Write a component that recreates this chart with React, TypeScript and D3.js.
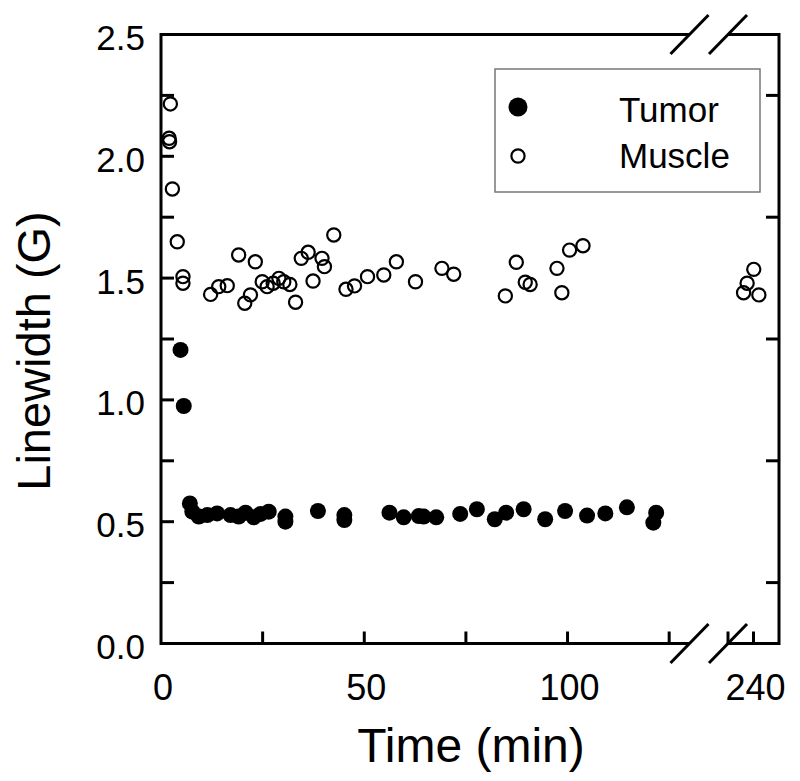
import * as d3 from "d3";
import { useEffect, useRef } from "react";

// time (min) and linewidth (G)
const tumorTime = [4.8, 5.6, 7.1, 7.7, 9.3, 11.4, 13.8, 17.1, 19.1, 20.8, 22.8, 24.5, 26.5, 30.6, 30.6, 38.6, 45.1, 45.1, 56.2, 59.7, 63.4, 64.6, 67.7, 73.6, 77.7, 82.1, 84.9, 89.2, 94.5, 99.4, 104.8, 109.3, 114.6, 121.8, 121.1];
const tumorWidth = [1.205, 0.975, 0.575, 0.541, 0.521, 0.527, 0.534, 0.527, 0.521, 0.537, 0.518, 0.532, 0.541, 0.521, 0.5, 0.544, 0.527, 0.507, 0.537, 0.518, 0.523, 0.521, 0.518, 0.532, 0.551, 0.51, 0.537, 0.551, 0.51, 0.544, 0.525, 0.534, 0.559, 0.537, 0.496];

const muscleTime = [2.3, 2.0, 2.1, 2.8, 4.0, 5.4, 5.4, 12.2, 14.2, 16.3, 19.1, 20.6, 22.0, 23.2, 24.9, 26.1, 27.6, 29.0, 30.2, 31.7, 33.1, 34.5, 36.2, 37.4, 39.6, 40.2, 42.5, 45.5, 47.6, 50.8, 54.8, 57.9, 62.6, 69.1, 72.0, 84.7, 87.4, 89.6, 90.8, 97.4, 98.6, 100.5, 103.8, 240.1, 237.5, 236.1, 242.1];
const muscleWidth = [2.215, 2.074, 2.06, 1.866, 1.649, 1.506, 1.479, 1.433, 1.465, 1.469, 1.595, 1.397, 1.431, 1.567, 1.485, 1.465, 1.479, 1.499, 1.485, 1.474, 1.401, 1.581, 1.606, 1.488, 1.581, 1.547, 1.677, 1.454, 1.468, 1.506, 1.513, 1.567, 1.485, 1.54, 1.516, 1.427, 1.565, 1.483, 1.474, 1.54, 1.44, 1.615, 1.633, 1.536, 1.479, 1.44, 1.431];

const yTickLabels = [0, 0.5, 1.0, 1.5, 2.0, 2.5];
const leftTicks = [0.25, 0.5, 0.75, 1.0, 1.25, 1.5, 1.75, 2.0, 2.25];
const rightTicks = [0.25, 0.75, 1.25, 1.75, 2.25];
const xTicksLow = [25, 50, 75, 100, 125];
const xTicksHigh = [230, 240];
const xLabelsLow = [0, 50, 100];
const xLabelsHigh = [240];

const W = 800;
const H = 781;
const FONT = "'Liberation Sans', Arial, sans-serif";

export default function App() {
  const ref = useRef<SVGSVGElement>(null);

  useEffect(() => {
    const svg = d3.select(ref.current);
    svg.selectAll("*").remove();

    const left = 161, right = 779, top = 34.5, bottom = 643.5;

    // broken x axis: two linear segments
    const xLow = d3.scaleLinear().domain([0, 130]).range([left, 689.5]);
    const xHigh = d3.scaleLinear().domain([230, 250]).range([728, right]);
    const x = (t: number) => (t < 200 ? xLow(t) : xHigh(t));
    const y = d3.scaleLinear().domain([0, 2.5]).range([bottom, top]);

    const g = svg.append("g");
    const axisStyle = (s: any) => s.attr("stroke", "#000").attr("stroke-width", 3).attr("fill", "none");

    // frame with gaps at the break
    g.append("path")
      .attr("d", `M${xLow(130)},${top}H${left}V${bottom}H${xLow(130)}`)
      .call(axisStyle);
    g.append("path")
      .attr("d", `M${xHigh(230)},${top}H${right}V${bottom}H${xHigh(230)}`)
      .call(axisStyle)
      .attr("stroke-linejoin", "miter");

    // break marks
    [top, bottom].forEach((yy) => {
      [xLow(130), xHigh(230)].forEach((xx) => {
        g.append("line")
          .attr("x1", xx - 19).attr("y1", yy + 19.5)
          .attr("x2", xx + 19).attr("y2", yy - 19.5)
          .attr("stroke", "#000").attr("stroke-width", 3);
      });
    });

    const tickLen = 13;
    g.selectAll(".lt").data(leftTicks).join("line")
      .attr("x1", left).attr("x2", left + tickLen)
      .attr("y1", (d) => y(d)).attr("y2", (d) => y(d))
      .attr("stroke", "#000").attr("stroke-width", 3);
    g.selectAll(".rt").data(rightTicks).join("line")
      .attr("x1", right).attr("x2", right - tickLen)
      .attr("y1", (d) => y(d)).attr("y2", (d) => y(d))
      .attr("stroke", "#000").attr("stroke-width", 3);
    g.selectAll(".bt").data([...xTicksLow.map(xLow), ...xTicksHigh.map(xHigh)]).join("line")
      .attr("x1", (d) => d).attr("x2", (d) => d)
      .attr("y1", bottom).attr("y2", bottom - 12)
      .attr("stroke", "#000").attr("stroke-width", 3);

    // tick labels
    g.selectAll(".yl").data(yTickLabels).join("text")
      .attr("x", 145).attr("y", (d) => y(d) + 15.5)
      .attr("text-anchor", "end")
      .attr("font-family", FONT).attr("font-size", 35)
      .text((d) => d.toFixed(1));
    g.selectAll(".xl").data([...xLabelsLow.map((d) => [d, xLow(d)]), ...xLabelsHigh.map((d) => [d, xHigh(d)])]).join("text")
      .attr("x", (d) => d[1] + 2).attr("y", 700)
      .attr("text-anchor", "middle")
      .attr("font-family", FONT).attr("font-size", 36)
      .text((d) => String(d[0]));

    // axis titles
    g.append("text")
      .attr("x", 471).attr("y", 762)
      .attr("text-anchor", "middle")
      .attr("font-family", FONT).attr("font-size", 48)
      .text("Time (min)");
    g.append("text")
      .attr("transform", "translate(50,351) rotate(-90)")
      .attr("text-anchor", "middle")
      .attr("font-family", FONT).attr("font-size", 47)
      .text("Linewidth (G)");

    // data
    const muscle = muscleTime.map((t, i) => ({ t, v: muscleWidth[i] }));
    const tumor = tumorTime.map((t, i) => ({ t, v: tumorWidth[i] }));
    g.selectAll(".m").data(muscle).join("circle")
      .attr("cx", (d) => x(d.t)).attr("cy", (d) => y(d.v)).attr("r", 6.6)
      .attr("fill", "none").attr("stroke", "#000").attr("stroke-width", 2.2);
    g.selectAll(".tu").data(tumor).join("circle")
      .attr("cx", (d) => x(d.t)).attr("cy", (d) => y(d.v)).attr("r", 8)
      .attr("fill", "#000");

    // legend
    const lg = g.append("g").attr("transform", "translate(495,69)");
    lg.append("rect").attr("width", 265).attr("height", 123)
      .attr("fill", "#fff").attr("stroke", "#777").attr("stroke-width", 1.5);
    lg.append("circle").attr("cx", 23).attr("cy", 38).attr("r", 9.5).attr("fill", "#000");
    lg.append("circle").attr("cx", 23).attr("cy", 87).attr("r", 6.6)
      .attr("fill", "none").attr("stroke", "#000").attr("stroke-width", 2.2);
    lg.append("text").attr("x", 124).attr("y", 52.7)
      .attr("font-family", FONT).attr("font-size", 35).text("Tumor");
    lg.append("text").attr("x", 124).attr("y", 98.7)
      .attr("font-family", FONT).attr("font-size", 35).text("Muscle");
  }, []);

  return (
    <svg
      ref={ref}
      width={W}
      height={H}
      style={{ position: "absolute", left: 0, top: 0, background: "#fff" }}
    />
  );
}
